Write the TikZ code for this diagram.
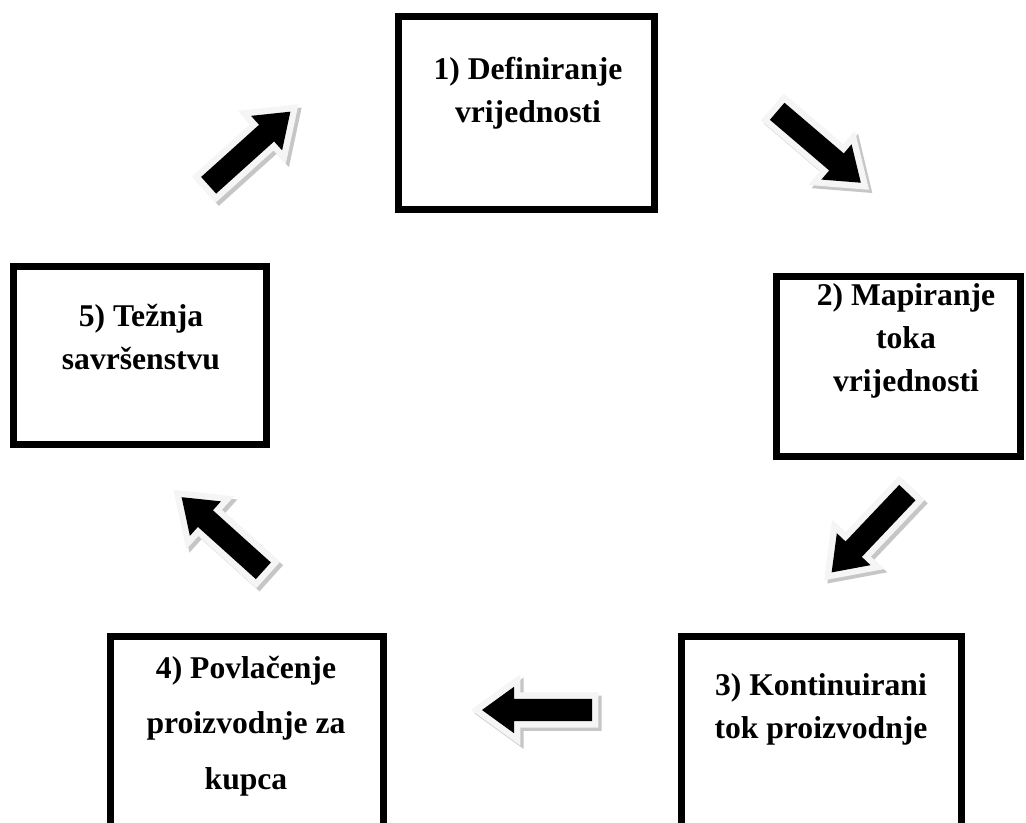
\documentclass[tikz,border=0pt]{standalone}
\usepackage{fontspec}
\setmainfont{Liberation Serif}
\tikzset{
	stagebox/.style={draw=black, line width=5pt, fill=white, inner sep=0pt},
	stagetext/.style={font=\fontsize{22.5}{30.6}\selectfont\bfseries, align=center, inner sep=0pt},
	arrowpath/.style={insert path={(-1.375,-0.28) -- (0.575,-0.28) -- (0.575,-0.58) -- (1.375,0) -- (0.575,0.58) -- (0.575,0.28) -- (-1.375,0.28) -- cycle}},
	pics/flowarrow/.style={code={
		\filldraw[gray!45, line width=0.32cm, line join=miter, shift={(0.08,-0.08)}, rotate=#1, arrowpath];
		\filldraw[gray!8, line width=0.32cm, line join=miter, rotate=#1, arrowpath];
		\fill[black, rotate=#1, arrowpath];
	}}
}
\begin{document}
\begin{tikzpicture}
	\clip (0,0) rectangle (25.65,20.575);
	\fill[white] (0,0) rectangle (25.65,20.575);

	% boxes
	\node[stagebox, minimum width=6.4cm,   minimum height=4.825cm]  (s1) at (13.1625,17.75)   {};
	\node[stagebox, minimum width=6.1cm,   minimum height=4.5cm]    (s2) at (22.4625,11.4125) {};
	\node[stagebox, minimum width=7.0cm,   minimum height=5.5875cm] (s3) at (20.5375,1.86875) {};
	\node[stagebox, minimum width=6.825cm, minimum height=5.5875cm] (s4) at (6.175,1.86875)   {};
	\node[stagebox, minimum width=6.325cm, minimum height=4.45cm]   (s5) at (3.5,11.6875)     {};

	\node[stagetext] (t1) at (13.2,18.25)   {1) Definiranje\\vrijednosti};
	\node[stagetext] (t2) at (22.65,12.05)  {2) Mapiranje\\toka\\vrijednosti};
	\node[stagetext] (t3) at (20.525,2.85) {3) Kontinuirani\\tok proizvodnje};
	\node[stagetext] (t4) at (6.15,2.425)  {4) Povlačenje\\[9pt]proizvodnje za\\[9pt]kupca};
	\node[stagetext] (t5) at (3.525,12.15)  {5) Težnja\\savršenstvu};

	% arrows
	\pic (a51) at (6.2375,16.8625) {flowarrow=42};
	\pic (a12) at (20.475,16.9)    {flowarrow=-40.5};
	\pic (a23) at (21.7375,7.2625) {flowarrow=226.5};
	\pic (a34) at (13.425,2.825)   {flowarrow=180};
	\pic (a45) at (5.5625,7.225)   {flowarrow=138};
\end{tikzpicture}
\end{document}
